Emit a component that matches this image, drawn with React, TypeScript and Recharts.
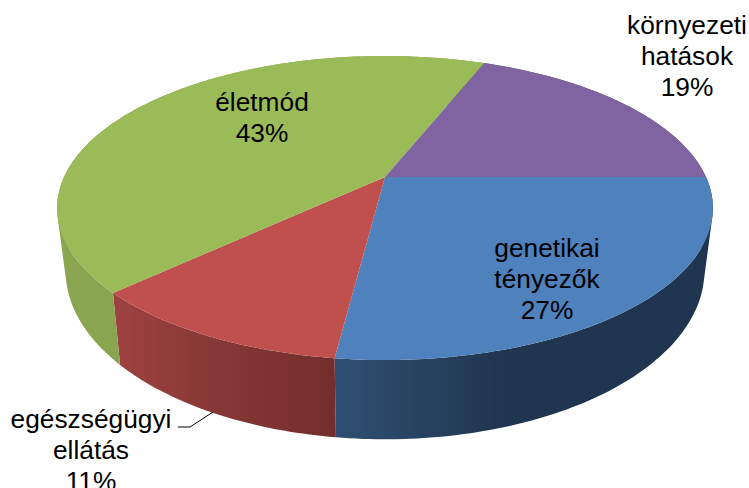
import { PieChart, Pie, Cell } from "recharts";

const NAMES = ["genetikai tényezők", "egészségügyi ellátás", "életmód", "környezeti hatások"];
const VALUES = [27, 11, 43, 19];
const TOP_COLORS = ["#4f81bd", "#c0504d", "#9bbb59", "#8064a2"];
const WALL_STOPS = [
  ["#2f5073", "#20354f", "#1f3550"],
  ["#9e4240", "#873836", "#722e2c"],
  ["#8ba650", "#87a24e", "#7f9a49"],
  ["#6a5287", "#5f4a7a", "#5f4a7a"],
];

// where each label block sits: centre x, first baseline
const LABEL_LINES = [["genetikai", "tényezők"], ["egészségügyi", "ellátás"], ["életmód"], ["környezeti", "hatások"]];
const LABEL_ANCHORS = [
  [547, 257],
  [91, 428],
  [262, 111],
  [687, 34],
];

const data = VALUES.map((value, i) => ({ name: NAMES[i], value }));

// tilted disc: maps an angle on the flat pie to the picture
const TILT = -0.204;
const SQUASH = 145.7 / 321;
const project = (cx: number, cy: number, r: number, deg: number, bottom = false) => {
  const a = (deg * Math.PI) / 180;
  const d = 1 + TILT * Math.sin(a);
  const x = (r * Math.cos(a)) / d;
  const y = (r * SQUASH * Math.sin(a)) / d;
  if (!bottom) return [cx + x, cy + y];
  return [cx + x * 0.974, cy + y * 1.108 + 59.5];
};

const arcPoints = (p: any, bottom: boolean) => {
  const from = -p.startAngle;
  const to = -p.endAngle;
  const n = Math.max(2, Math.ceil(Math.abs(to - from)));
  const pts = [];
  for (let i = 0; i <= n; i++) pts.push(project(p.cx, p.cy, p.outerRadius, from + ((to - from) * i) / n, bottom));
  return pts;
};

const toPath = (pts: number[][]) => pts.map((q, i) => `${i ? "L" : "M"}${q[0].toFixed(1)},${q[1].toFixed(1)}`).join("") + "Z";

const area = (q: number[][]) => q.reduce((s, a, i) => {
  const b = q[(i + 1) % q.length];
  return s + a[0] * b[1] - b[0] * a[1];
}, 0);

const TopFace = (p: any) => <path d={toPath([[p.cx, p.cy], ...arcPoints(p, false)])} fill={p.fill} stroke="none" />;

// swept quads, all wound the same way, so the side silhouette comes out straight
const Wall = (p: any) => {
  const top = arcPoints(p, false);
  const low = arcPoints(p, true);
  const quads = top.slice(1).map((t, i) => {
    const q = [top[i], t, low[i + 1], low[i]];
    return toPath(area(q) < 0 ? q.reverse() : q);
  });
  return <path d={quads.join("")} fill={p.fill} stroke="none" />;
};

const renderLabel = ({ index, value }: any) => {
  const [x, y] = LABEL_ANCHORS[index];
  const lines = [...LABEL_LINES[index], `${value}%`];
  return (
    <g key={index}>
      <text x={x} y={y} textAnchor="middle" fontFamily="Liberation Sans" fontSize={26.3} fill="#000">
        {lines.map((t, i) => (
          <tspan key={t} x={x} dy={i ? 31 : 0}>{t}</tspan>
        ))}
      </text>
      {index === 1 && <polyline points="178,427 190,427 213,412" fill="none" stroke="#000" strokeWidth={1} />}
    </g>
  );
};

export default function App() {
  return (
    <div style={{ position: "absolute", left: 0, top: 0, width: 749, height: 488, overflow: "hidden", background: "#fff" }}>
      <PieChart width={749} height={488} margin={{ top: 0, right: 0, bottom: 0, left: 0 }}>
        <defs>
          {WALL_STOPS.map((s, i) => (
            <linearGradient key={i} id={`wall${i}`} x1="0" y1="0" x2="1" y2="0">
              <stop offset="0%" stopColor={s[0]} />
              <stop offset="45%" stopColor={s[1]} />
              <stop offset="100%" stopColor={s[2]} />
            </linearGradient>
          ))}
        </defs>
        <Pie data={data} dataKey="value" cx={385} cy={177} innerRadius={0} outerRadius={321} startAngle={0} endAngle={-360} paddingAngle={0} stroke="none" shape={Wall} isAnimationActive={false}>
          {VALUES.map((_, i) => <Cell key={i} fill={`url(#wall${i})`} />)}
        </Pie>
        <Pie data={data} dataKey="value" cx={385} cy={177} innerRadius={0} outerRadius={321} startAngle={0} endAngle={-360} paddingAngle={0} stroke="none" shape={TopFace} label={renderLabel} labelLine={false} isAnimationActive={false}>
          {VALUES.map((_, i) => <Cell key={i} fill={TOP_COLORS[i]} />)}
        </Pie>
      </PieChart>
    </div>
  );
}
